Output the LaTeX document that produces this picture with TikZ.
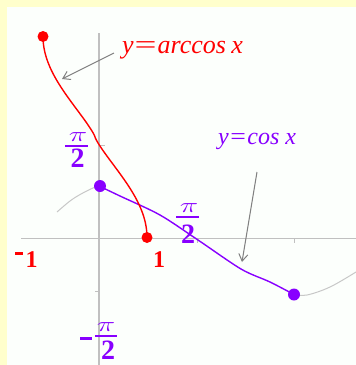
\documentclass[tikz,border=0pt]{standalone}
\usepackage{fontspec}
\setmainfont{Liberation Serif}
\usetikzlibrary{arrows.meta}
\definecolor{bgyel}{RGB}{255,255,204}
\definecolor{panel}{RGB}{252,255,252}
\definecolor{axisgray}{RGB}{192,192,192}
\definecolor{curvegray}{RGB}{200,200,200}
\definecolor{arrowgray}{RGB}{128,128,128}
\definecolor{myred}{RGB}{255,0,0}
\definecolor{myviolet}{RGB}{136,0,255}
\begin{document}
\begin{tikzpicture}[x=1pt,y=-1pt,
  axis/.style={draw=axisgray, line width=1.6pt},
  tickmark/.style={draw=axisgray, line width=1pt},
  graycurve/.style={draw=curvegray, line width=1pt},
  redcurve/.style={draw=myred, line width=1.4pt},
  violetcurve/.style={draw=myviolet, line width=1.4pt},
  reddot/.style={circle, fill=myred, inner sep=0pt, minimum size=11pt},
  violetdot/.style={circle, fill=myviolet, inner sep=0pt, minimum size=12pt},
  pointer/.style={draw=arrowgray, line width=1pt, -{Straight Barb[length=7pt,width=9pt]}},
  lbl/.style={inner sep=0pt, anchor=base west},
  pinum/.style={inner sep=0pt, text=myviolet, font=\fontsize{22}{24}\selectfont},
  twonum/.style={inner sep=0pt, text=myviolet, font=\fontsize{28}{30}\selectfont\bfseries},
  fracbar/.style={draw=myviolet, line width=2pt},
  rednum/.style={inner sep=0pt, text=myred, font=\fontsize{24}{26}\selectfont\bfseries},
  redminus/.style={draw=myred, line width=3pt},
  vminus/.style={draw=myviolet, line width=3.5pt}
]
\useasboundingbox (0,0) rectangle (356,365);
\fill[bgyel] (0,0) rectangle (356,365);
\fill[panel] (7,7) rectangle (356,365);

% axes
\coordinate (xl) at (21,238.5);
\coordinate (xr) at (356,238.5);
\coordinate (yt) at (99,33);
\coordinate (yb) at (99,365);
\draw[axis] (xl) -- (xr);
\draw[axis] (yt) -- (yb);
% ticks
\draw[tickmark] (99,145) -- (105,145);
\draw[tickmark] (99,291) -- (95,291);
\draw[tickmark] (197,238.5) -- (197,243);
\draw[tickmark] (294,238.5) -- (294,243);

% gray cos parts
\draw[graycurve] plot[smooth, tension=0.6] coordinates {(57,212) (70,201) (81,194) (93,188) (99,186)};
\draw[graycurve] plot[smooth, tension=0.6] coordinates {(294,294.5) (307,295) (330,287) (356,272)};

% violet cos on [0,pi]
\draw[violetcurve] plot[smooth, tension=0.5] coordinates {(99,186) (120,196) (160,215) (198,240) (241,269) (270,282) (294,294.5)};

% red arccos
\draw[redcurve] plot[domain=0:3.1416, samples=90, variable=\t]
  ({95+52*sign(cos(\t r))*pow(abs(cos(\t r)),1.2)}, {237.5-64*\t});

% dots
\node[reddot] (rA) at (43,36.5) {};
\node[reddot] (rB) at (147,237.5) {};
\node[violetdot] (vA) at (100,186) {};
\node[violetdot] (vB) at (294,294.5) {};

% labels
\node[lbl, text=myred, font=\fontsize{26}{30}\selectfont] (larc) at (122,53)
  {\itshape y\hspace{1pt}\upshape\scalebox{1.5}[1]{=}\hspace{1pt}\itshape arccos\hspace{0.2em}x};
\node[lbl, text=myviolet, font=\fontsize{24}{28}\selectfont] (lcos) at (218,144)
  {\itshape y\hspace{1.5pt}\upshape\scalebox{1.15}[1]{=}\hspace{1.5pt}\itshape cos\hspace{0.25em}x};

% pointers
\coordinate (p1s) at (114,53);
\coordinate (p1e) at (62,79);
\coordinate (p2s) at (257,172);
\coordinate (p2e) at (242,262);
\draw[pointer] (p1s) -- (p1e);
\draw[pointer] (p2s) -- (p2e);

% fraction pi/2 on y axis
\node[pinum] (fa1) at (78,137) {\scalebox{1.5}[1]{$\pi$}};
\draw[fracbar] (65,145.7) -- (88,145.7);
\node[twonum] (fa2) at (77.5,158.5) {2};

% fraction pi/2 on x axis
\node[pinum] (fb1) at (189,208) {\scalebox{1.5}[1]{$\pi$}};
\draw[fracbar] (176,217) -- (199,217);
\node[twonum] (fb2) at (188,234) {2};

% fraction -pi/2
\draw[vminus] (80,338.5) -- (92,338.5);
\node[pinum] (fc1) at (106,327) {\scalebox{1.5}[1]{$\pi$}};
\draw[fracbar] (95,335.5) -- (117,335.5);
\node[twonum] (fc2) at (108,350.5) {2};

% red numbers
\draw[redminus] (15,253.5) -- (23,253.5);
\node[rednum] (nm1) at (31.5,260) {1};
\node[rednum] (n1) at (159,260) {1};
\end{tikzpicture}
\end{document}
